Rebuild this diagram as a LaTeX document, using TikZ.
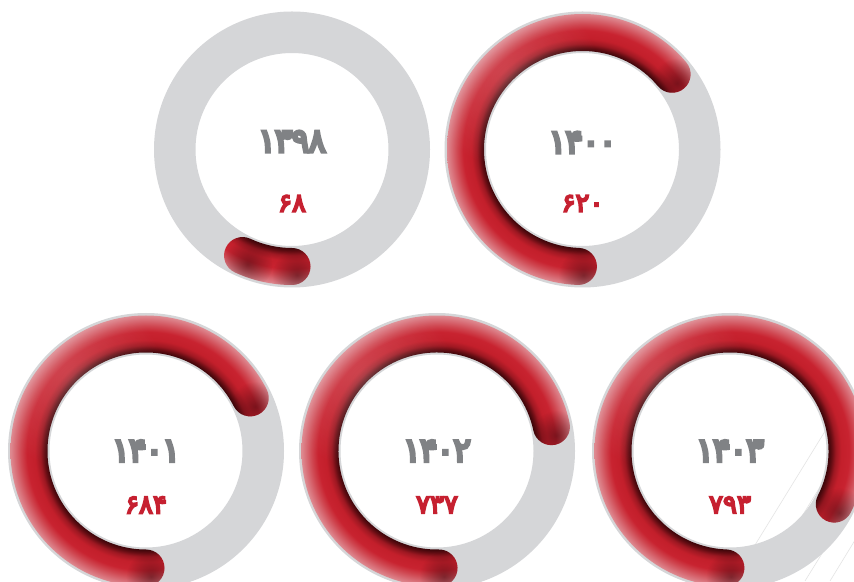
\documentclass[tikz,border=0pt]{standalone}
\usepackage{fontspec}
\newfontfamily\fafont[Script=Arabic, FakeBold=9, LetterSpace=-3]{DejaVu Sans}
\newfontfamily\favalfont[Script=Arabic, FakeBold=7, LetterSpace=0]{DejaVu Sans}
\usetikzlibrary{fadings}
\definecolor{ringgrey}{HTML}{D5D6D8}
\definecolor{yeargrey}{HTML}{808285}
\definecolor{valred}{HTML}{C62030}
\definecolor{hairline}{HTML}{E4E4E4}
\definecolor{capdark}{HTML}{30040A}
\definecolor{tkA}{HTML}{3E060A}
\definecolor{tkB}{HTML}{650D13}
\definecolor{tkC}{HTML}{9E1822}
\definecolor{tkD}{HTML}{C31F2B}
\definecolor{tkE}{HTML}{C82330}
\definecolor{tkF}{HTML}{CF4650}
\definecolor{tkG}{HTML}{D86D76}
\definecolor{tkH}{HTML}{DE8A91}
\pgfdeclareradialshading{tubeshade}{\pgfpoint{0bp}{0bp}}{color(0bp)=(tkA); color(18.2bp)=(tkA); color(18.8bp)=(tkB); color(19.5bp)=(tkC); color(20.5bp)=(tkD); color(22.0bp)=(tkE); color(23.1bp)=(tkF); color(24.2bp)=(tkG); color(25bp)=(tkH); color(50bp)=(tkH)}
\tikzfading[name=softdot, inner color=transparent!0, outer color=transparent!100]
\tikzset{
  yearlbl/.style={font=\fafont\fontsize{33}{33}\selectfont, text=yeargrey, inner sep=0pt},
  vallbl/.style={font=\favalfont\fontsize{26}{26}\selectfont, text=valred, inner sep=0pt},
  greyring/.style={fill=ringgrey, even odd rule},
  hair/.style={draw=hairline, line width=0.6pt},
  capshadow/.style={fill=capdark, opacity=0.5, path fading=softdot},
  glow/.style={fill=white, opacity=0.18, path fading=softdot}
}
% #1 cx, #2 cy, #3 start angle, #4 end angle, #5 year, #6 value, #7 year offset, #8 id
\newcommand\gauge[8]{%
  \begin{scope}[shift={(#1,#2)}]
    \fill[greyring] (0,0) circle (138) (0,0) circle (96.5);
    \begin{scope}
      \clip (#3:135.5) arc[start angle=#3, end angle=#4, radius=135.5]
        arc[start angle=#4, end angle=#4-180, radius=18.5]
        arc[start angle=#4, end angle=#3, radius=98.5]
        arc[start angle=#3+180, end angle=#3, radius=18.5] -- cycle;
      \shade[shading=tubeshade] (0,0) circle (135.5);
      \fill[glow] (-70,70) circle (90);
      \fill[capshadow, shift={(#3:117)}] (-60:10) circle (25);
      \fill[capshadow, shift={(#4:117)}] (-60:10) circle (25);
    \end{scope}
    \node[yearlbl] (y#8) at (0,#7) {#5};
    \node[vallbl] (v#8) at (0,-54) {#6};
  \end{scope}}
\begin{document}
\begin{tikzpicture}[x=1pt,y=1pt]
  \useasboundingbox (0,0) rectangle (854,581);
  \clip (0,0) rectangle (854,581);
  \fill[white] (0,0) rectangle (854,581);
  % faint hairlines
  \draw[hair] (755,36) -- (835,166);
  \draw[hair] (775,21) -- (860,159);
  \draw[hair] (805,0) -- (860,89);
  \draw[hair] (830,0) -- (860,49);
  % gauges
  \gauge{292}{431.5}{270}{245}{۱۳۹۸}{۶۸}{8}{a}
  \gauge{582.5}{431.5}{268}{40}{۱۴۰۰}{۶۲۰}{7}{b}
  \gauge{146}{130}{270}{27}{۱۴۰۱}{۶۸۴}{0}{c}
  \gauge{437}{130}{271}{12}{۱۴۰۲}{۷۳۷}{0}{d}
  \gauge{730}{130}{268}{-27}{۱۴۰۳}{۷۹۳}{0}{e}
\end{tikzpicture}
\end{document}
